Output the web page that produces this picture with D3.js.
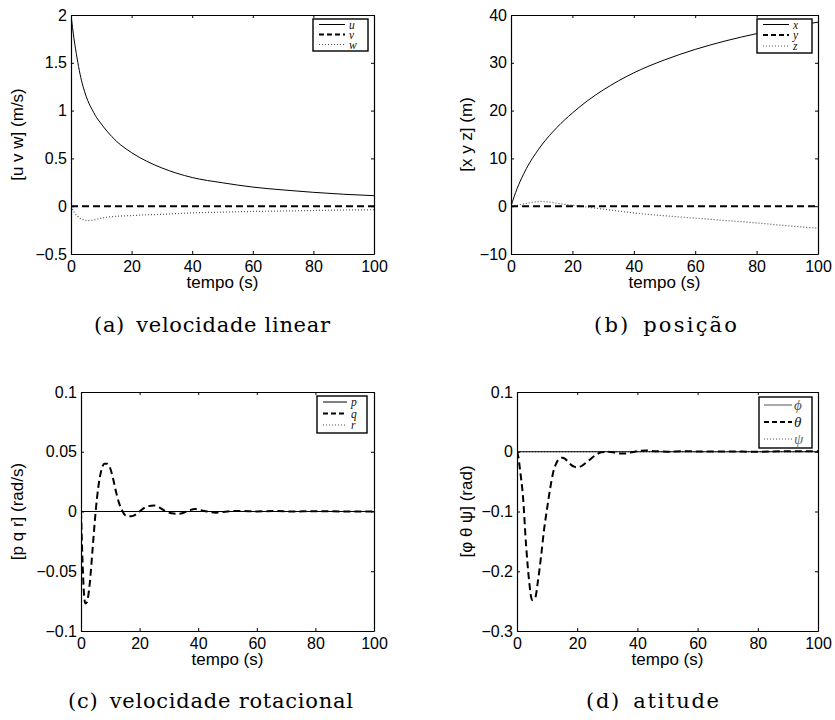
<!DOCTYPE html>
<html>
<head>
<meta charset="utf-8">
<script src="https://cdn.jsdelivr.net/npm/d3@7"></script>
<style>
  body { margin: 0; background: #fff; }
  svg { display: block; }
</style>
</head>
<body>
<svg id="fig" width="835" height="720"></svg>
<script>
// ---------- simulated responses (time in s) ----------
// (a) linear velocity
const tLin = [0,1,2,3,4,5,6,7,8,10,12,15,20,25,30,40,50,60,70,80,90,100];
const uVals = [2.0,1.75,1.55,1.38,1.25,1.15,1.07,1.01,0.95,0.86,0.78,0.68,0.56,0.47,0.40,0.30,0.245,0.20,0.17,0.145,0.125,0.11];
const wVals = [0,-0.06,-0.10,-0.125,-0.14,-0.148,-0.15,-0.147,-0.14,-0.125,-0.115,-0.105,-0.098,-0.09,-0.085,-0.07,-0.062,-0.055,-0.05,-0.045,-0.04,-0.037];
const tFlat = [0,100];
const vVals = [0,0];

// (b) position
const tPosX = [0,1,2,4,6,8,10,15,20,25,30,40,50,60,70,80,90,100];
const xVals = [0,1.95,3.7,6.6,9.0,11.0,12.8,16.5,19.5,22.1,24.3,27.9,30.6,32.8,34.6,36.1,37.4,38.5];
const yVals = [0,0];
const tPosZ = [0,2,5,8,10,12,15,20,25,30,40,50,60,70,80,90,100];
const zVals = [0,0.2,0.6,0.9,1.0,0.9,0.6,0.2,-0.2,-0.6,-1.4,-2.0,-2.5,-3.0,-3.5,-4.1,-4.6];

// (c) rotational velocity
const tRot = [0,0.5,1,1.5,2,3,4,5,6,7,8,9,10,11,12,13,14,15,16,17,18,19,21,23,25,27,29,31,33,35,37,39,41,43,46,50,54,60,66,72,80,90,100];
const qVals = [0,-0.04,-0.068,-0.077,-0.076,-0.06,-0.03,0,0.022,0.035,0.040,0.040,0.036,0.027,0.016,0.007,0.001,-0.003,-0.004,-0.004,-0.0035,-0.002,0.002,0.0045,0.005,0.003,0,-0.0015,-0.002,-0.001,0.001,0.002,0.001,0,-0.001,0,0.0005,0,0.0005,0,0.0003,0,0];
const pVals = [0,0];
const rVals = [0,0];

// (d) attitude
const tAtt = [0,0.5,1,2,3,4,5,6,7,8,9,10,11,12,13,14,15,16,17,18,19,20,21,22,24,26,28,30,32,34,36,38,40,43,46,50,55,60,70,80,90,100];
const thetaVals = [0,-0.01,-0.03,-0.076,-0.155,-0.215,-0.248,-0.245,-0.215,-0.175,-0.13,-0.095,-0.062,-0.035,-0.02,-0.012,-0.01,-0.012,-0.017,-0.022,-0.025,-0.026,-0.025,-0.022,-0.014,-0.006,-0.001,0,-0.001,-0.003,-0.003,-0.001,0.001,0.002,0.001,0,0.001,0.0005,0.0005,0,0.001,0.001];
const phiVals = [0,0];
const psiVals = [0,0];

// ---------- axis ticks ----------
const xTicks = [0,20,40,60,80,100];
const xTickLabels = ["0","20","40","60","80","100"];
const yTicksA = [-0.5,0,0.5,1,1.5,2];
const yTickLabelsA = ["\u22120.5","0","0.5","1","1.5","2"];
const yTicksB = [-10,0,10,20,30,40];
const yTickLabelsB = ["\u221210","0","10","20","30","40"];
const yTicksC = [-0.1,-0.05,0,0.05,0.1];
const yTickLabelsC = ["\u22120.1","\u22120.05","0","0.05","0.1"];
const yTicksD = [-0.3,-0.2,-0.1,0,0.1];
const yTickLabelsD = ["\u22120.3","\u22120.2","\u22120.1","0","0.1"];

// ---------- line styles ----------
const STYLE = {
  solid:  { stroke: "#000", width: 1.0, dash: null },
  dashed: { stroke: "#000", width: 2.0, dash: "7,4" },
  dotted: { stroke: "#555", width: 1.2, dash: "1,2" }
};

const panels = [
  {
    id: "a", box: { l: 71, r: 374, t: 15, b: 254 },
    yDomain: [-0.5, 2], yTicks: yTicksA, yTickLabels: yTickLabelsA,
    ylabel: "[u v w] (m/s)", ylabelX: 17.5,
    series: [
      { name: "u", t: tLin, v: uVals, style: "solid" },
      { name: "v", t: tFlat, v: vVals, style: "dashed" },
      { name: "w", t: tLin, v: wVals, style: "dotted" }
    ],
    legend: { x: 313, y: 19, w: 55, h: 32, rows: [24.5, 34.5, 44.5], font: 11.5, lx: 6, ll: 26, tx: 36 },
    caption: { text: "(a)\u2002velocidade linear", x0: 94, x1: 330, y: 332 }
  },
  {
    id: "b", box: { l: 511, r: 818, t: 15, b: 254 },
    yDomain: [-10, 40], yTicks: yTicksB, yTickLabels: yTickLabelsB,
    ylabel: "[x y z] (m)", ylabelX: 466,
    series: [
      { name: "x", t: tPosX, v: xVals, style: "solid" },
      { name: "y", t: tFlat, v: yVals, style: "dashed" },
      { name: "z", t: tPosZ, v: zVals, style: "dotted" }
    ],
    legend: { x: 757, y: 19, w: 55, h: 34, rows: [24.5, 35, 46], font: 11.5, lx: 6, ll: 26, tx: 36 },
    caption: { text: "(b)\u2002posi\u00e7\u00e3o", x0: 594, x1: 737, y: 332 }
  },
  {
    id: "c", box: { l: 81, r: 374, t: 392, b: 631 },
    yDomain: [-0.1, 0.1], yTicks: yTicksC, yTickLabels: yTickLabelsC,
    ylabel: "[p q r] (rad/s)", ylabelX: 17.5,
    series: [
      { name: "p", t: tFlat, v: pVals, style: "solid" },
      { name: "q", t: tRot, v: qVals, style: "dashed" },
      { name: "r", t: tFlat, v: rVals, style: "dotted" }
    ],
    legend: { x: 317, y: 396, w: 50, h: 37, rows: [402, 413.5, 425], font: 11.5, lx: 6, ll: 24, tx: 34 },
    caption: { text: "(c)\u2002velocidade rotacional", x0: 68, x1: 353, y: 707.5 }
  },
  {
    id: "d", box: { l: 517, r: 818, t: 392, b: 631 },
    yDomain: [-0.3, 0.1], yTicks: yTicksD, yTickLabels: yTickLabelsD,
    ylabel: "[\u03c6 \u03b8 \u03c8] (rad)", ylabelX: 466.5,
    series: [
      { name: "\u03d5", t: tFlat, v: phiVals, style: "solid", legendColor: "#555" },
      { name: "\u03b8", t: tAtt, v: thetaVals, style: "dashed" },
      { name: "\u03c8", t: tFlat, v: psiVals, style: "dotted", legendColor: "#666" }
    ],
    legend: { x: 759, y: 397, w: 53, h: 51, rows: [405, 422, 439], font: 15, lx: 5, ll: 28, tx: 35 },
    caption: { text: "(d)\u2002atitude", x0: 586, x1: 719, y: 707.5 }
  }
];

const svg = d3.select("#fig");
const defs = svg.append("defs");
const SANS = "'Liberation Sans', Arial, Helvetica, sans-serif";
const SERIF = "'Liberation Serif', 'Times New Roman', serif";
const CAPTION_SERIF = "'DejaVu Serif', serif";

function styleAxis(sel) {
  sel.attr("font-family", SANS).attr("font-size", 16);
  sel.selectAll("path.domain").attr("stroke", "#000").attr("stroke-width", 1.2);
  sel.selectAll(".tick line").attr("stroke", "#000").attr("stroke-width", 1);
  sel.selectAll(".tick text").attr("fill", "#000");
}

panels.forEach(p => {
  const { l, r, t, b } = p.box;
  const x = d3.scaleLinear().domain([0, 100]).range([l, r]);
  const y = d3.scaleLinear().domain(p.yDomain).range([b, t]);
  const g = svg.append("g").attr("class", "panel-" + p.id);

  defs.append("clipPath").attr("id", "clip-" + p.id)
    .append("rect").attr("x", l).attr("y", t).attr("width", r - l).attr("height", b - t);

  g.append("rect").attr("x", l).attr("y", t).attr("width", r - l).attr("height", b - t).attr("fill", "#fff");

  // data lines: zero-valued references first, responses on top
  const line = d3.line().x(d => x(d[0])).y(d => y(d[1])).curve(d3.curveMonotoneX);
  const order = ["dotted", "solid", "dashed"];
  const sorted = p.series.slice().sort((a, c) => order.indexOf(a.style) - order.indexOf(c.style));
  const lines = g.append("g").attr("clip-path", "url(#clip-" + p.id + ")");
  sorted.forEach(s => {
    const st = STYLE[s.style];
    lines.append("path")
      .datum(d3.zip(s.t, s.v))
      .attr("d", line)
      .attr("fill", "none")
      .attr("stroke", st.stroke)
      .attr("stroke-width", st.width)
      .attr("stroke-dasharray", st.dash);
  });

  // axes with inward ticks on all four sides
  const bottom = g.append("g").attr("transform", `translate(0,${b})`)
    .call(d3.axisBottom(x).tickValues(xTicks).tickFormat((d, i) => xTickLabels[i])
      .tickSizeInner(-3).tickSizeOuter(0).tickPadding(7));
  styleAxis(bottom);
  const top = g.append("g").attr("transform", `translate(0,${t})`)
    .call(d3.axisTop(x).tickValues(xTicks).tickFormat("").tickSizeInner(-3).tickSizeOuter(0));
  styleAxis(top);
  const left = g.append("g").attr("transform", `translate(${l},0)`)
    .call(d3.axisLeft(y).tickValues(p.yTicks).tickFormat((d, i) => p.yTickLabels[i])
      .tickSizeInner(-3).tickSizeOuter(0).tickPadding(4));
  styleAxis(left);
  const right = g.append("g").attr("transform", `translate(${r},0)`)
    .call(d3.axisRight(y).tickValues(p.yTicks).tickFormat("").tickSizeInner(-3).tickSizeOuter(0));
  styleAxis(right);

  // axis titles
  g.append("text")
    .attr("x", (l + r) / 2).attr("y", b + 34)
    .attr("text-anchor", "middle")
    .attr("font-family", SANS).attr("font-size", 17)
    .text("tempo (s)");
  g.append("text")
    .attr("transform", `translate(${p.ylabelX},${(t + b) / 2}) rotate(-90)`)
    .attr("text-anchor", "middle").attr("dominant-baseline", "central")
    .attr("font-family", SANS).attr("font-size", 17)
    .text(p.ylabel);

  // legend
  const L = p.legend;
  const lg = g.append("g");
  lg.append("rect").attr("x", L.x).attr("y", L.y).attr("width", L.w).attr("height", L.h)
    .attr("fill", "#fff").attr("stroke", "#000").attr("stroke-width", 1.4);
  p.series.forEach((s, i) => {
    const st = STYLE[s.style];
    const ry = L.rows[i];
    lg.append("line")
      .attr("x1", L.x + L.lx).attr("x2", L.x + L.lx + L.ll)
      .attr("y1", ry).attr("y2", ry)
      .attr("stroke", s.legendColor && s.style === "solid" ? s.legendColor : st.stroke)
      .attr("stroke-width", st.width)
      .attr("stroke-dasharray", s.style === "dashed" ? "5,3" : st.dash);
    lg.append("text")
      .attr("x", L.x + L.tx).attr("y", ry)
      .attr("dominant-baseline", "central")
      .attr("font-family", SERIF).attr("font-style", "italic")
      .attr("font-size", L.font)
      .attr("fill", s.legendColor || "#111")
      .text(s.name);
  });

  // sub-figure caption
  const C = p.caption;
  g.append("text")
    .attr("x", C.x0).attr("y", C.y)
    .attr("font-family", CAPTION_SERIF).attr("font-size", 21)
    .attr("textLength", C.x1 - C.x0).attr("lengthAdjust", "spacing")
    .attr("fill", "#000")
    .text(C.text);
});
</script>
</body>
</html>
